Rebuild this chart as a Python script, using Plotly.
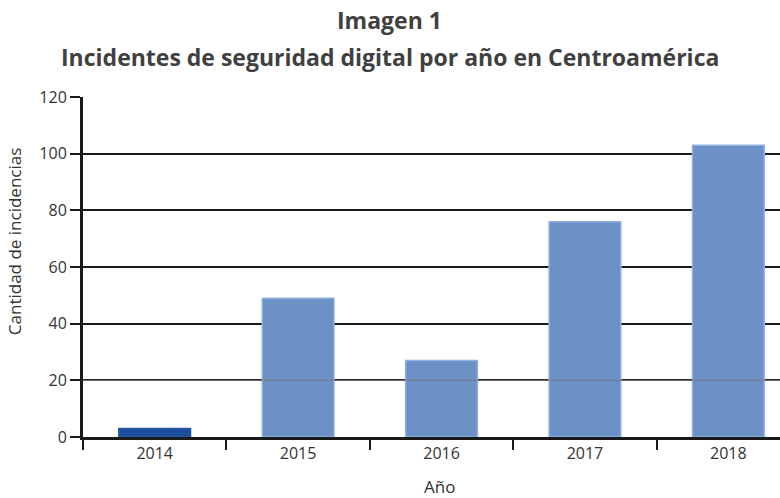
import plotly.graph_objects as go

years = ["2014", "2015", "2016", "2017", "2018"]
incidents = [3, 49, 27, 76, 103]
bar_colors = ["#1b4f9b", "#6b91c7", "#6b91c7", "#6b91c7", "#6b91c7"]
line_colors = ["#2a5aa5", "#8fb0dc", "#8fb0dc", "#8fb0dc", "#8fb0dc"]
y_ticks = [0, 20, 40, 60, 80, 100, 120]
title_1 = "Imagen 1"
title_2 = "Incidentes de seguridad digital por año en Centroamérica"
x_title = "Año"
y_title = "Cantidad de incidencias"

fig = go.Figure()
fig.add_trace(go.Bar(
    x=years, y=incidents, width=0.5,
    marker=dict(color=bar_colors, line=dict(color=line_colors, width=1.5)),
))

fig.add_hline(y=20, line=dict(color="#7a7a7a", width=1), layer="above")

title_font = dict(family="Open Sans", size=23, color="#404040", weight="bold")
fig.add_annotation(text=title_1, xref="paper", yref="paper", x=0.44, y=1.226,
                   xanchor="center", yanchor="middle", showarrow=False, font=title_font)
fig.add_annotation(text=title_2, xref="paper", yref="paper", x=0.44, y=1.118,
                   xanchor="center", yanchor="middle", showarrow=False, font=title_font)
axis_title_font = dict(family="Open Sans", size=17, color="#333333")
fig.add_annotation(text=y_title, xref="paper", yref="paper", x=-0.099, y=0.576,
                   xanchor="center", yanchor="middle", textangle=-90,
                   showarrow=False, font=axis_title_font)
fig.add_annotation(text=x_title, xref="paper", yref="paper", x=0.512, y=-0.147,
                   xanchor="center", yanchor="middle",
                   showarrow=False, font=axis_title_font)

fig.update_layout(
    width=780, height=498,
    margin=dict(l=83, r=0, t=97, b=61),
    paper_bgcolor="white", plot_bgcolor="white",
    showlegend=False,
    font=dict(family="Open Sans", size=16, color="#333333"),
)
fig.update_xaxes(
    type="category", range=[-0.5, 4.36], automargin=False,
    showline=True, linecolor="#1a1a1a", linewidth=3,
    ticks="outside", tickson="boundaries", ticklen=10, tickwidth=2, tickcolor="#1a1a1a",
    showgrid=False,
    tickfont=dict(size=16, color="#333333"),
)
fig.update_yaxes(
    range=[0, 120], tickvals=y_ticks, automargin=False,
    showline=True, linecolor="#1a1a1a", linewidth=3,
    ticks="outside", ticklen=10, tickwidth=2, tickcolor="#1a1a1a",
    showgrid=True, gridcolor="#1a1a1a", gridwidth=2,
    zeroline=False,
    tickfont=dict(size=16, color="#333333"),
)

fig.write_html("out.html", config={"displayModeBar": False},
               post_script="document.body.style.margin='0';")
